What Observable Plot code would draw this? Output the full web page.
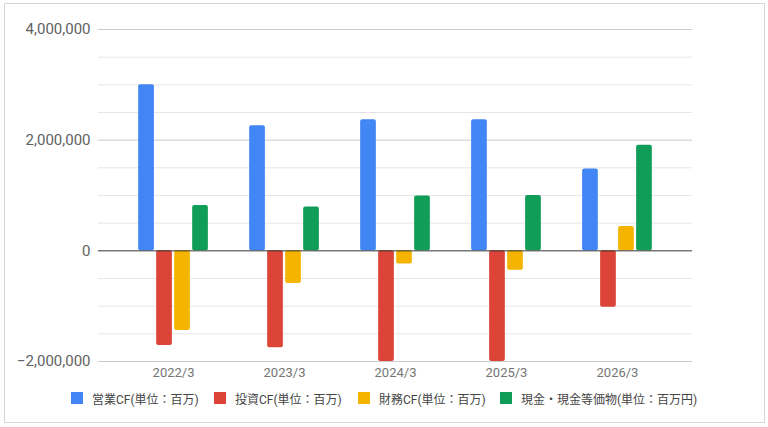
<!DOCTYPE html>
<html>
<head>
<meta charset="utf-8">
<script src="https://cdn.jsdelivr.net/npm/d3@7"></script>
<script src="https://cdn.jsdelivr.net/npm/@observablehq/plot@0.6"></script>
<style>
  html, body { margin: 0; padding: 0; background: #fff; }
  #wrap { position: relative; width: 768px; height: 427px; overflow: hidden; font-family: Roboto, "Noto Sans CJK JP", sans-serif; }
  #border { position: absolute; left: 4px; top: 3px; width: 759px; height: 418px; border: 1px solid #d6d6d6; }
  .layer { position: absolute; left: 0; top: 0; }
  #legend { position: absolute; left: 0; top: 391px; width: 768px; height: 16px; font-size: 12px; color: #444; white-space: nowrap; }
  .item { position: absolute; top: 0; display: flex; align-items: center; height: 14px; }
  .sw { width: 12px; height: 12px; margin-right: 9px; }
</style>
</head>
<body>
<div id="wrap">
  <div id="border"></div>
  <div id="grid" class="layer"></div>
  <div id="bars" class="layer"></div>
  <div id="zero" class="layer"></div>
  <div id="legend"></div>
</div>
<script>
const years = ["2022/3", "2023/3", "2024/3", "2025/3", "2026/3"];
const series = ["営業CF(単位：百万)", "投資CF(単位：百万)", "財務CF(単位：百万)", "現金・現金等価物(単位：百万円)"];
const operating = [3000000, 2260000, 2370000, 2370000, 1480000];
const investing = [-1710000, -1750000, -2000000, -2000000, -1020000];
const financing = [-1440000, -590000, -240000, -350000, 440000];
const cash = [820000, 790000, 990000, 1000000, 1910000];
const colors = ["#4285F4", "#DB4437", "#F4B400", "#0F9D58"];
const majorTicks = [-2000000, 0, 2000000, 4000000];
const minorTicks = [-1500000, -1000000, -500000, 500000, 1000000, 1500000, 2500000, 3000000, 3500000];

const seriesValues = [operating, investing, financing, cash];
const data = years.flatMap((yr, i) => series.map((s, j) => ({year: yr, series: s, value: seriesValues[j][i]})));

const fmt = d3.format(",");

const common = {
  width: 768,
  height: 385,
  marginTop: 29,
  marginBottom: 24,
  marginLeft: 98,
  marginRight: 76,
  style: {fontFamily: "Roboto, 'Noto Sans CJK JP', sans-serif", background: "transparent", overflow: "visible"},
  y: {domain: [-2000000, 4000000], axis: null}
};

// Layer 1: gridlines and y labels
const grid = Plot.plot({
  ...common,
  marks: [
    Plot.ruleY(minorTicks, {stroke: "#e6e6e6", strokeWidth: 1}),
    Plot.ruleY(majorTicks.filter(d => d !== 0), {stroke: "#cccccc", strokeWidth: 1}),
    Plot.text(majorTicks, {y: d => d, text: d => fmt(d), frameAnchor: "left", textAnchor: "end", dx: -8, fontSize: 15, fill: "#616161"})
  ]
});
document.getElementById("grid").appendChild(grid);

// Layer 2: grouped bars
const bars = Plot.plot({
  ...common,
  fx: {domain: years, paddingInner: 0, paddingOuter: 0.176, round: false, label: null},
  x: {domain: series, axis: null, paddingInner: 0.128, paddingOuter: 1.147, round: false},
  color: {domain: series, range: colors},
  marks: [
    Plot.barY(data, {fx: "year", x: "series", y: "value", fill: "series", rx: 2}),
    Plot.axisFx({anchor: "bottom", tickSize: 0, tickPadding: 6, fontSize: 13, fill: "#757575", label: null})
  ]
});
document.getElementById("bars").appendChild(bars);

// Layer 3: zero baseline on top
const zero = Plot.plot({
  ...common,
  marks: [
    Plot.ruleY([0], {stroke: "#333333", strokeWidth: 1})
  ]
});
document.getElementById("zero").appendChild(zero);

const legendLeft = [71, 214, 358, 500];
const legend = document.getElementById("legend");
series.forEach((s, i) => {
  const item = document.createElement("div");
  item.className = "item";
  item.style.left = legendLeft[i] + "px";
  const sw = document.createElement("div");
  sw.className = "sw";
  sw.style.background = colors[i];
  const t = document.createElement("span");
  t.textContent = s;
  item.appendChild(sw);
  item.appendChild(t);
  legend.appendChild(item);
});
</script>
</body>
</html>
